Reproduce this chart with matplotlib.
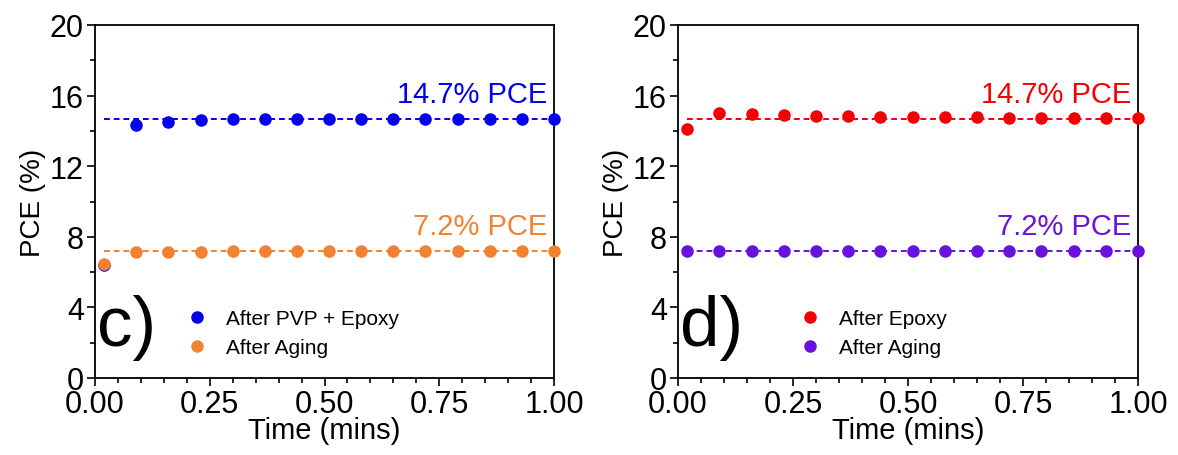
import matplotlib
matplotlib.use("Agg")
import matplotlib.pyplot as plt
from matplotlib.ticker import MultipleLocator

plt.rcParams["font.family"] = ["Liberation Sans", "DejaVu Sans"]

# Tempo de medida (min)
tempo = [0.02, 0.09, 0.16, 0.23, 0.30, 0.37, 0.44, 0.51, 0.58, 0.65, 0.72, 0.79, 0.86, 0.93, 1.00]

# Painel c)
pce_pvp_epoxy = [6.40, 14.32, 14.53, 14.62, 14.66, 14.67, 14.69, 14.70, 14.70, 14.70, 14.70, 14.70, 14.70, 14.70, 14.70]
pce_aging_c = [6.45, 7.14, 7.15, 7.16, 7.17, 7.18, 7.18, 7.18, 7.18, 7.18, 7.18, 7.18, 7.18, 7.18, 7.18]
# Painel d)
pce_epoxy = [14.11, 15.00, 14.95, 14.89, 14.85, 14.83, 14.79, 14.78, 14.76, 14.76, 14.74, 14.74, 14.74, 14.74, 14.72]
pce_aging_d = [7.20, 7.20, 7.20, 7.20, 7.20, 7.20, 7.20, 7.20, 7.20, 7.20, 7.20, 7.20, 7.20, 7.20, 7.20]

# Valores medios (linhas tracejadas)
media_c = [14.7, 7.2]
media_d = [14.7, 7.2]

AZUL = "#0000F0"
LARANJA = "#F08232"
VERMELHO = "#F50000"
ROXO = "#6A10E0"

fig = plt.figure(figsize=(11.78, 4.56), dpi=100)
ax_c = fig.add_axes([95 / 1178, 77 / 456, 459 / 1178, 353 / 456])
ax_d = fig.add_axes([678 / 1178, 77 / 456, 460 / 1178, 353 / 456])


def painel(ax, series, medias, cores, nomes, letra, leg_x):
    # linhas de media tracejadas
    for m, cor in zip(medias, cores):
        ax.plot([tempo[0], tempo[-1]], [m, m], color=cor, lw=1.4,
                dashes=(3, 2), zorder=2)
        ax.text(0.985, m + 0.6, f"{m}% PCE", color=cor, fontsize=21,
                ha="right", va="bottom", transform=ax.get_yaxis_transform())
    for y, cor, nome in zip(series, cores, nomes):
        ax.plot(tempo, y, "o", color=cor, ms=8, label=nome, zorder=3,
                clip_on=False)

    ax.set_xlim(0, 1)
    ax.set_ylim(0, 20)
    ax.xaxis.set_major_locator(MultipleLocator(0.25))
    ax.xaxis.set_minor_locator(MultipleLocator(0.05))
    ax.yaxis.set_major_locator(MultipleLocator(4))
    ax.yaxis.set_minor_locator(MultipleLocator(2))
    ax.xaxis.set_major_formatter(plt.FuncFormatter(lambda v, p: f"{v:.2f}"))
    ax.tick_params(which="major", direction="out", length=6, width=1.2,
                   labelsize=22, pad=2, top=False, right=False)
    ax.tick_params(which="minor", direction="out", length=3.5, width=1.2,
                   top=False, right=False)
    for s in ax.spines.values():
        s.set_linewidth(1.3)
    ax.set_xlabel("Time (mins)", fontsize=21, labelpad=-2)
    ax.set_ylabel("PCE (%)", fontsize=20, labelpad=3)

    ax.legend(loc="lower left", bbox_to_anchor=(leg_x, 0.035), frameon=False,
              fontsize=15, handletextpad=1.0, labelspacing=0.5,
              handlelength=0.8, borderaxespad=0)
    ax.text(0.005, 0.05, letra, fontsize=51, ha="left", va="bottom",
            transform=ax.transAxes)


painel(ax_c, [pce_pvp_epoxy, pce_aging_c], media_c, [AZUL, LARANJA],
       ["After PVP + Epoxy", "After Aging"], "c)", 0.185)
painel(ax_d, [pce_epoxy, pce_aging_d], media_d, [VERMELHO, ROXO],
       ["After Epoxy", "After Aging"], "d)", 0.25)

fig.savefig("out.png", dpi=100)
